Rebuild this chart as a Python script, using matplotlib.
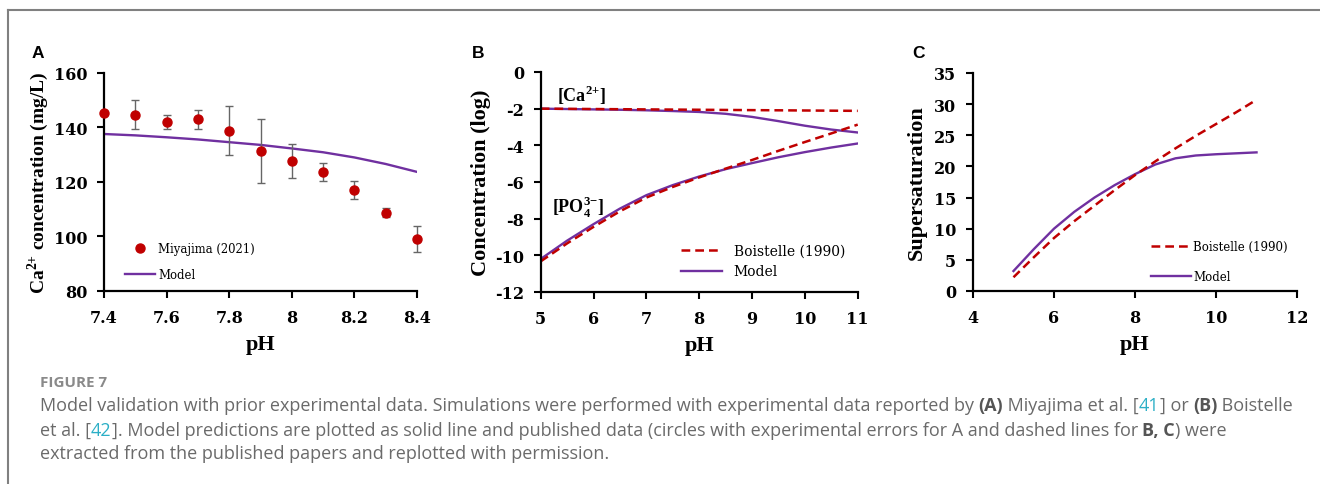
import numpy as np
import matplotlib
matplotlib.use("Agg")
import matplotlib.pyplot as plt
from matplotlib.lines import Line2D

plt.rcParams['font.family'] = 'DejaVu Serif'
plt.rcParams['font.weight'] = 'bold'
plt.rcParams['xtick.labelsize'] = 11.5
plt.rcParams['ytick.labelsize'] = 11.5
plt.rcParams['axes.unicode_minus'] = False
plt.rcParams['mathtext.fontset'] = 'custom'
plt.rcParams['mathtext.rm'] = 'Liberation Serif:bold'
plt.rcParams['mathtext.bf'] = 'Liberation Serif:bold'

# ---- data ----
# panel A
ph_a = [7.4, 7.5, 7.6, 7.7, 7.8, 7.9, 8.0, 8.1, 8.2, 8.3, 8.4]
ca_exp = [145.3, 144.7, 142.0, 143.0, 138.8, 131.5, 127.6, 123.8, 117.0, 108.7, 99.2]
ca_err = [0, 5.3, 2.5, 3.4, 8.9, 11.7, 6.2, 3.3, 3.3, 1.7, 4.8]
ca_model = [137.6, 137.1, 136.4, 135.6, 134.6, 133.6, 132.3, 130.9, 129.0, 126.6, 123.7]

# panel B
ph_b = [5, 5.5, 6, 6.5, 7, 7.5, 8, 8.5, 9, 9.5, 10, 10.5, 11]
ca_log_model = [-2.0, -2.02, -2.04, -2.06, -2.09, -2.13, -2.18, -2.28, -2.45, -2.68, -2.93, -3.14, -3.3]
ca_log_boist = [-2.0, -2.01, -2.02, -2.03, -2.04, -2.05, -2.06, -2.07, -2.08, -2.09, -2.10, -2.11, -2.12]
po4_log_model = [-10.2, -9.2, -8.3, -7.45, -6.72, -6.17, -5.7, -5.3, -4.97, -4.65, -4.37, -4.12, -3.9]
po4_log_boist = [-10.33, -9.35, -8.45, -7.6, -6.85, -6.27, -5.75, -5.27, -4.8, -4.3, -3.82, -3.35, -2.87]

# panel C
ph_c = [5, 5.5, 6, 6.5, 7, 7.5, 8, 8.5, 9, 9.5, 10, 10.5, 11]
ss_boist = [2.2, 5.4, 8.5, 11.2, 13.7, 16.2, 18.6, 20.8, 22.9, 24.9, 26.8, 28.7, 30.7]
ss_model = [3.2, 6.7, 10.0, 12.7, 15.0, 17.0, 18.75, 20.3, 21.3, 21.75, 21.95, 22.1, 22.25]

red = '#C00000'
purple = '#7030A0'
lab_font = dict(family='Liberation Serif', weight='bold', size=16)
leg_family = 'DejaVu Serif'

fig = plt.figure(figsize=(13.2, 4.85), dpi=100)


def style_axes(ax):
    for s in ['top', 'right']:
        ax.spines[s].set_visible(False)
    for s in ['left', 'bottom']:
        ax.spines[s].set_linewidth(1.6)
    ax.tick_params(direction='out', length=5, width=1.5)
    ax.tick_params(axis='x', pad=8)
    ax.tick_params(axis='y', pad=7)
    ax.set_xlabel('pH', labelpad=6, **lab_font)


# ---- A ----
axA = fig.add_axes([0.0788, 0.398, 0.2371, 0.4495])
axA.plot(ph_a, ca_model, color=purple, lw=1.7, label='Model')
eb = axA.errorbar(ph_a, ca_exp, yerr=ca_err, fmt='none', ecolor='#666666',
                  elinewidth=1, capsize=3, capthick=1)
for art in eb.lines[1] + eb.lines[2]:
    art.set_clip_on(False)
axA.plot(ph_a, ca_exp, 'o', color=red, ms=6.5, label='Miyajima (2021)',
         clip_on=False, zorder=3)
axA.set_xlim(7.4, 8.4)
axA.set_ylim(80, 160)
axA.set_xticks([7.4, 7.6, 7.8, 8.0, 8.2, 8.4])
axA.set_xticklabels(['7.4', '7.6', '7.8', '8', '8.2', '8.4'])
axA.set_yticks([80, 100, 120, 140, 160])
style_axes(axA)
axA.set_ylabel(r'Ca$^{2{+}}$ concentration (mg/L)', labelpad=2,
               family='Liberation Serif', weight='bold', size=14)
h, l = axA.get_legend_handles_labels()
axA.legend([h[1], h[0]], [l[1], l[0]], loc='lower left',
           bbox_to_anchor=(0.047, 0.02), frameon=False,
           prop=dict(family=leg_family, weight='normal', size=8.4), handlelength=2.6,
           handletextpad=0.3, labelspacing=1.1, borderpad=0)

# ---- B ----
axB = fig.add_axes([0.4096, 0.3959, 0.2402, 0.4536])
axB.plot(ph_b, ca_log_model, color=purple, lw=1.7, label='Model')
axB.plot(ph_b, po4_log_model, color=purple, lw=1.7)
axB.plot(ph_b, ca_log_boist, color=red, lw=1.8, ls=(0, (3.5, 2)), label='Boistelle (1990)')
axB.plot(ph_b, po4_log_boist, color=red, lw=1.8, ls=(0, (3.5, 2)))
axB.set_xlim(5, 11)
axB.set_ylim(-12, 0)
axB.set_xticks(range(5, 12))
axB.set_yticks(range(-12, 1, 2))
style_axes(axB)
axB.set_ylabel('Concentration (log)', labelpad=3, **lab_font)
axB.text(5.3, -1.2, r'[Ca$^{2{+}}$]', family='Liberation Serif', weight='bold',
         fontsize=13, va='center', ha='left')
axB.text(5.22, -7.35, r'[PO$_{4}^{3{-}}$]', family='Liberation Serif', weight='bold',
         fontsize=13, va='center', ha='left')
h, l = axB.get_legend_handles_labels()
axB.legend([h[1], h[0]], [l[1], l[0]], loc='lower left',
           bbox_to_anchor=(0.42, 0.03), frameon=False,
           prop=dict(family=leg_family, weight='normal', size=10), handlelength=3.0,
           handletextpad=0.8, labelspacing=0.5, borderpad=0)

# ---- C ----
axC = fig.add_axes([0.7371, 0.398, 0.2455, 0.4495])
axC.plot(ph_c, ss_model, color=purple, lw=1.7, label='Model')
axC.plot(ph_c, ss_boist, color=red, lw=1.8, ls=(0, (3.5, 2)), label='Boistelle (1990)')
axC.set_xlim(4, 12)
axC.set_ylim(0, 35)
axC.set_xticks(range(4, 13, 2))
axC.set_yticks(range(0, 36, 5))
style_axes(axC)
axC.set_ylabel('Supersaturation', labelpad=5, **lab_font)
h, l = axC.get_legend_handles_labels()
axC.legend([h[1], h[0]], [l[1], l[0]], loc='lower left',
           bbox_to_anchor=(0.53, 0.01), frameon=False,
           prop=dict(family=leg_family, weight='normal', size=8.5), handlelength=3.4,
           handletextpad=0.2, labelspacing=1.4, borderpad=0)

# panel letters
for lx, letter in [(32, 'A'), (472, 'B'), (912, 'C')]:
    fig.text(lx / 1320, 1 - 54 / 485, letter, family='Liberation Sans',
             weight='bold', size=12.5, va='center', ha='left')

# frame lines
fig.add_artist(Line2D([8 / 1320, 1], [1 - 10.5 / 485] * 2, color='#808080', lw=1.5))
fig.add_artist(Line2D([8 / 1320] * 2, [0, 1 - 10.5 / 485], color='#808080', lw=1.5))

# ---- caption ----
cap_color = '#6a6a6a'
cap_bold = '#555555'
cap_link = '#2BAFC6'
cap_size = 13.0
cap_family = 'Open Sans'
cap_x0 = 40.0

fig.text(cap_x0 / 1320, 1 - 383 / 485, 'FIGURE 7', family=cap_family, size=11,
         weight='bold', color='#8a8a8a', va='center', ha='left')

lines = [
    [('Model validation with prior experimental data. Simulations were performed with experimental data reported by ', 'n'),
     ('(A)', 'b'), (' Miyajima et al. [', 'n'), ('41', 'l'), ('] or ', 'n'), ('(B)', 'b'), (' Boistelle', 'n')],
    [('et al. [', 'n'), ('42', 'l'),
     ('].' + ' Model predictions are plotted as solid line and published data (circles with experimental errors for A and dashed lines for ', 'n'),
     ('B, C', 'b'), (') were', 'n')],
    [('extracted from the published papers and replotted with permission.', 'n')],
]
line_y = [406, 431, 454]

fig.canvas.draw()
renderer = fig.canvas.get_renderer()
for runs, yy in zip(lines, line_y):
    x = cap_x0
    for txt, kind in runs:
        color = {'n': cap_color, 'b': cap_bold, 'l': cap_link}[kind]
        weight = 'bold' if kind == 'b' else 'normal'
        t = fig.text(x / 1320, 1 - yy / 485, txt, family=cap_family, size=cap_size,
                     color=color, weight=weight, va='center', ha='left')
        bb = t.get_window_extent(renderer=renderer)
        x += bb.width

fig.savefig('out.png', dpi=100)
